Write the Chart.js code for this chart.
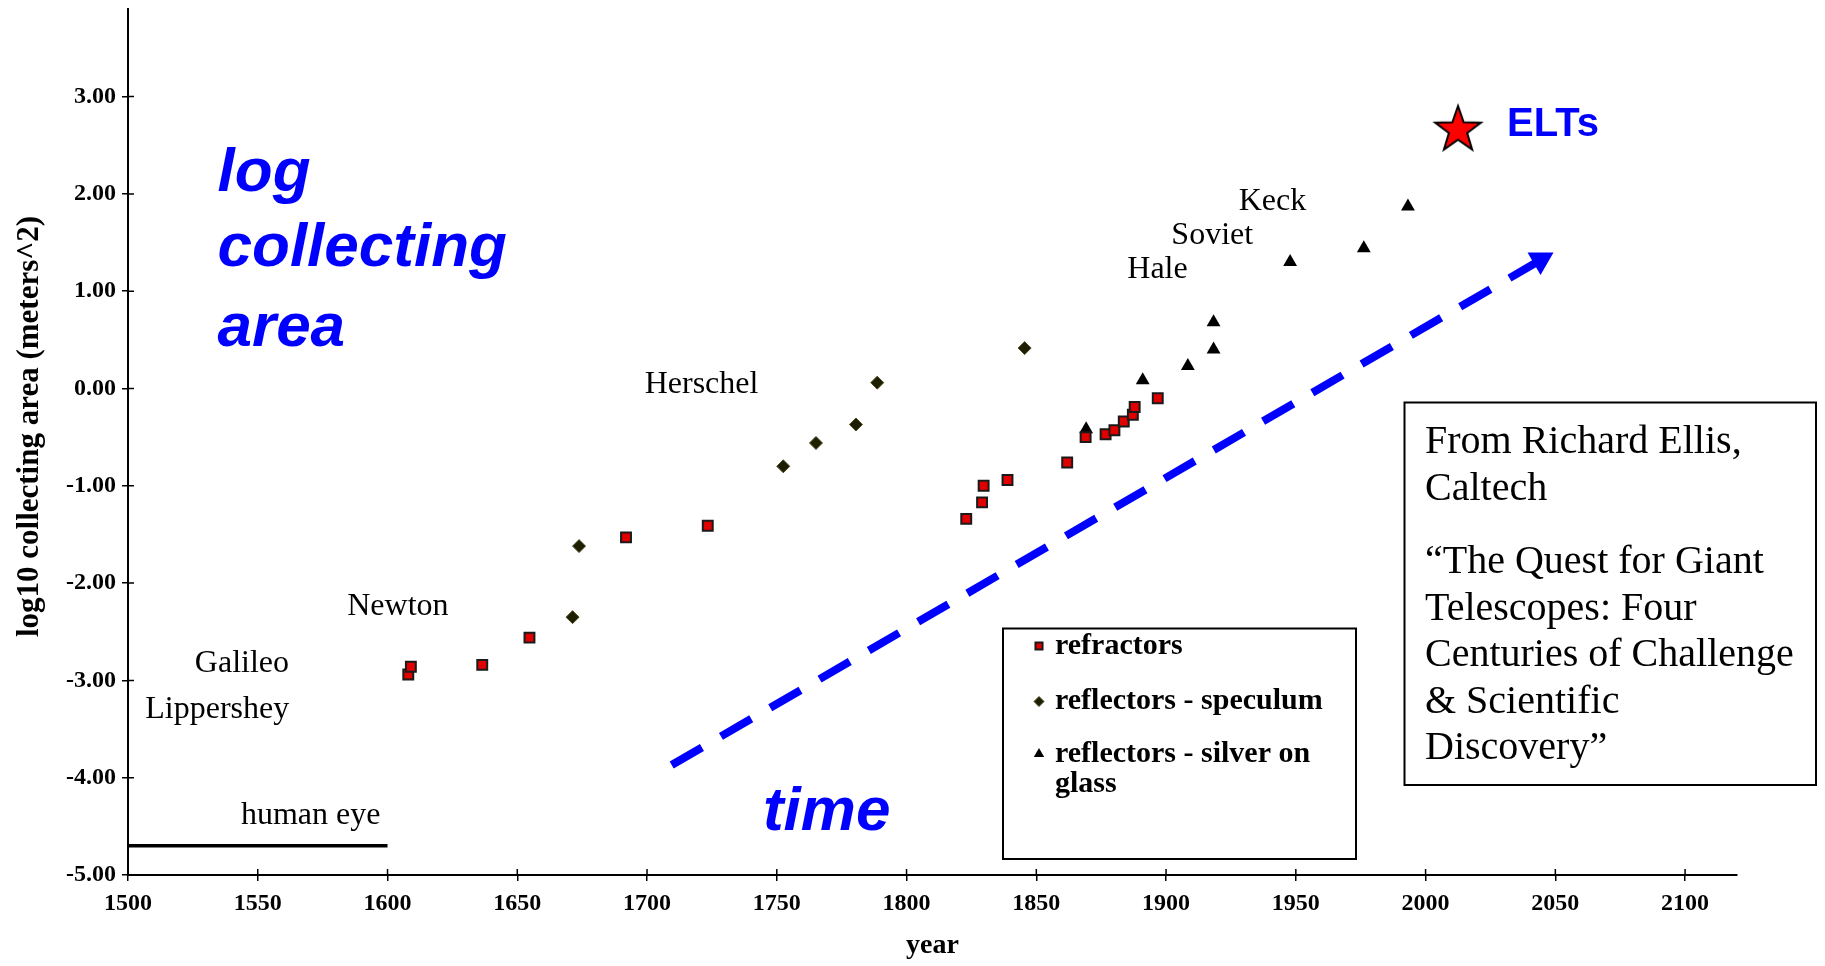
<!DOCTYPE html>
<html>
<head>
<meta charset="utf-8">
<script src="https://cdn.jsdelivr.net/npm/chart.js@4"></script>
<style>
  body { margin: 0; background: #fff; }
  canvas { display: block; }
</style>
</head>
<body>
<canvas id="tel" width="1825" height="966"></canvas>
<script>
// telescope sizes over time, log10 of collecting area in m^2
const refractorYears = [1608, 1609, 1636.5, 1654.7, 1691.9, 1723.4, 1823, 1829.1, 1829.7, 1838.9, 1861.9, 1869, 1876.7, 1880.1, 1883.7, 1887.2, 1887.9, 1896.8];
const refractorArea  = [-2.94, -2.86, -2.84, -2.56, -1.53, -1.41, -1.34, -1.17, -1.00, -0.94, -0.76, -0.50, -0.47, -0.43, -0.34, -0.27, -0.19, -0.10];

const speculumYears = [1671.3, 1673.8, 1752.5, 1765.1, 1780.5, 1788.7, 1845.5];
const speculumArea  = [-2.35, -1.62, -0.80, -0.56, -0.37, 0.06, 0.415];

const silverYears = [1869.2, 1891, 1908.4, 1918.3, 1918.3, 1947.8, 1976.2, 1993.2];
const silverArea  = [-0.42, 0.085, 0.23, 0.40, 0.68, 1.30, 1.44, 1.87];

const eltYears = [2012.5];
const eltArea  = [2.68];

const eyeYears = [1500, 1600];
const eyeArea  = [-4.70, -4.70];

const trendYears = [1709.5, 2044.3];
const trendArea  = [-3.87, 1.32];

const yearMin = 1500, yearMax = 2120, yearStep = 50;
const areaMin = -5, areaMax = 3.9, areaStep = 1;

const legendLines = [['refractors'], ['reflectors - speculum'], ['reflectors - silver on', 'glass']];

// annotation texts placed at data coordinates
const noteTexts = ['Lippershey', 'Galileo', 'Newton', 'Herschel', 'Hale', 'Soviet', 'Keck', 'human eye'];
const noteYears = [1534.4, 1543.9, 1604, 1721, 1896.7, 1917.8, 1941, 1570.4];
const noteArea  = [-3.30, -2.83, -2.24, 0.04, 1.225, 1.57, 1.92, -4.385];

const bigTexts = ['log', 'collecting', 'area', 'time'];
const bigYears = [1534.5, 1534.5, 1534.5, 1769.2];
const bigArea  = [2.21, 1.43, 0.61, -4.36];

const creditLines = ['From Richard Ellis,', 'Caltech', '\u201CThe Quest for Giant', 'Telescopes: Four', 'Centuries of Challenge', '& Scientific', 'Discovery\u201D'];

const serif = '"Liberation Serif", "Times New Roman", serif';
const sans = '"Liberation Sans", Arial, sans-serif';
const blue = '#0000ff';

function makeStar(size) {
	const c = document.createElement('canvas');
	c.width = size; c.height = size;
	const g = c.getContext('2d');
	const R = 24, r = R * 0.4;
	const cx = size / 2, cy = size / 2 + R * (1 - 0.809) / 2;
	g.beginPath();
	for (let i = 0; i < 10; i++) {
		const a = -Math.PI / 2 + i * Math.PI / 5;
		const rr = i % 2 ? r : R;
		g.lineTo(cx + rr * Math.cos(a), cy + rr * Math.sin(a));
	}
	g.closePath();
	g.fillStyle = '#ff0000';
	g.fill();
	g.lineWidth = 2;
	g.strokeStyle = '#000';
	g.stroke();
	return c;
}

const pts = (xs, ys) => xs.map((v, i) => ({x: v, y: ys[i]}));

// ticks crossing the axis lines
const crossTicks = {
	id: 'crossTicks',
	afterDraw(chart) {
		const {ctx, scales: {x, y}} = chart;
		ctx.save();
		ctx.strokeStyle = '#000';
		ctx.lineWidth = 1.5;
		ctx.beginPath();
		x.ticks.forEach(t => {
			const px = x.getPixelForValue(t.value);
			ctx.moveTo(px, x.top);
			ctx.lineTo(px, x.top - 6);
		});
		y.ticks.forEach(t => {
			const py = y.getPixelForValue(t.value);
			ctx.moveTo(y.right, py);
			ctx.lineTo(y.right + 6, py);
		});
		ctx.stroke();
		ctx.restore();
	}
};

const notes = {
	id: 'notes',
	afterDatasetsDraw(chart) {
		const {ctx, scales: {x, y}} = chart;
		ctx.save();
		ctx.textBaseline = 'middle';
		ctx.fillStyle = '#000';
		ctx.textAlign = 'center';
		ctx.font = '32px ' + serif;
		noteTexts.forEach((t, i) => {
			ctx.fillText(t, x.getPixelForValue(noteYears[i]), y.getPixelForValue(noteArea[i]));
		});
		ctx.fillStyle = blue;
		ctx.font = 'italic bold 62px ' + sans;
		bigTexts.forEach((t, i) => {
			ctx.textAlign = t === 'time' ? 'center' : 'left';
			ctx.fillText(t, x.getPixelForValue(bigYears[i]), y.getPixelForValue(bigArea[i]));
		});
		ctx.textAlign = 'left';
		ctx.font = 'bold 40px ' + sans;
		ctx.fillText('ELTs', x.getPixelForValue(2031.4), y.getPixelForValue(2.71));
		ctx.restore();
	}
};

const boxes = {
	id: 'boxes',
	afterDraw(chart) {
		const ctx = chart.ctx;
		ctx.save();
		ctx.strokeStyle = '#000';
		ctx.lineWidth = 2;
		// legend
		ctx.strokeRect(1003, 628.5, 353, 230.5);
		const rowY = [646, 701.5, 754];
		ctx.font = 'bold 30px ' + serif;
		ctx.textBaseline = 'middle';
		ctx.textAlign = 'left';
		for (let i = 0; i < 3; i++) {
			const ds = chart.data.datasets[i];
			ctx.fillStyle = ds.backgroundColor;
			ctx.strokeStyle = ds.borderColor;
			ctx.lineWidth = ds.borderWidth;
			Chart.helpers.drawPoint(ctx, {pointStyle: ds.pointStyle, radius: ds.legendRadius, rotation: 0, borderWidth: ds.borderWidth}, 1039, rowY[i]);
			ctx.fillStyle = '#000';
			legendLines[i].forEach((line, j) => ctx.fillText(line, 1055, rowY[i] + j * 30));
		}
		// credit
		ctx.strokeStyle = '#000';
		ctx.lineWidth = 2;
		ctx.strokeRect(1404.5, 402.5, 411.5, 382.5);
		ctx.font = '40px ' + serif;
		ctx.textBaseline = 'alphabetic';
		ctx.fillStyle = '#000';
		const baseY = [453, 500, 573, 620, 666, 713, 759];
		creditLines.forEach((line, i) => ctx.fillText(line, 1425, baseY[i]));
		ctx.restore();
	}
};

const cht = document.getElementById('tel').getContext('2d');
const tel = new Chart(cht, {
	type: 'scatter',
	data: {
		datasets: [
			{
				label: 'refractors',
				data: pts(refractorYears, refractorArea),
				pointStyle: 'rect',
				pointRadius: 7,
				legendRadius: 5,
				backgroundColor: '#e00000',
				borderColor: '#1a1a1a',
				borderWidth: 2,
			},
			{
				label: 'reflectors - speculum',
				data: pts(speculumYears, speculumArea),
				pointStyle: 'rectRot',
				pointRadius: 6.5,
				legendRadius: 5,
				backgroundColor: '#1e1e00',
				borderColor: '#4a4a20',
				borderWidth: 1,
			},
			{
				label: 'reflectors - silver on glass',
				data: pts(silverYears, silverArea),
				pointStyle: 'triangle',
				pointRadius: 8,
				legendRadius: 6,
				backgroundColor: '#000',
				borderColor: '#000',
				borderWidth: 0,
			},
			{
				label: 'ELTs',
				data: pts(eltYears, eltArea),
				pointStyle: makeStar(54),
				pointRadius: 20,
			},
			{
				label: 'human eye',
				data: pts(eyeYears, eyeArea),
				showLine: true,
				borderColor: '#000',
				borderWidth: 3.5,
				pointRadius: 0,
			},
			{
				label: 'trend',
				data: pts(trendYears, trendArea),
				showLine: true,
				borderColor: blue,
				borderWidth: 8,
				borderDash: [35, 22],
				borderCapStyle: 'butt',
				pointStyle: 'triangle',
				pointRadius: [0, 15],
				pointRotation: 60,
				pointBackgroundColor: blue,
				pointBorderWidth: 0,
			}
		]
	},
	options: {
		responsive: false,
		animation: false,
		layout: {
			autoPadding: false,
			padding: {left: 0, top: 9, right: 88, bottom: 0}
		},
		plugins: {
			legend: {display: false},
			tooltip: {enabled: false},
		},
		scales: {
			x: {
				type: 'linear',
				min: yearMin,
				max: yearMax,
				afterFit: s => { s.height = 91; s.paddingLeft = 0; s.paddingRight = 0; },
				border: {color: '#000', width: 2},
				grid: {drawOnChartArea: false, tickLength: 6, color: '#000', lineWidth: 1.5},
				ticks: {
					stepSize: yearStep,
					includeBounds: false,
					padding: 8,
					color: '#000',
					maxRotation: 0,
					font: {family: serif, size: 24, weight: 'bold'},
					callback: v => String(v),
				},
				title: {
					display: true,
					text: 'year',
					color: '#000',
					padding: {top: 0, bottom: 3},
					font: {family: serif, size: 28, weight: 'bold'},
				}
			},
			y: {
				min: areaMin,
				max: areaMax,
				afterFit: s => { s.width = 128; s.paddingTop = 0; s.paddingBottom = 0; },
				border: {color: '#000', width: 2},
				grid: {drawOnChartArea: false, tickLength: 6, color: '#000', lineWidth: 1.5},
				ticks: {
					stepSize: areaStep,
					includeBounds: false,
					padding: 6,
					color: '#000',
					font: {family: serif, size: 24, weight: 'bold', lineHeight: 0.25},
					callback: v => v.toFixed(2),
				},
				title: {
					display: true,
					text: '    log10 collecting area (meters^2)',
					color: '#000',
					padding: {top: 11, bottom: 0},
					font: {family: serif, size: 31, weight: 'bold'},
				}
			}
		}
	},
	plugins: [crossTicks, notes, boxes]
});
</script>
</body>
</html>
